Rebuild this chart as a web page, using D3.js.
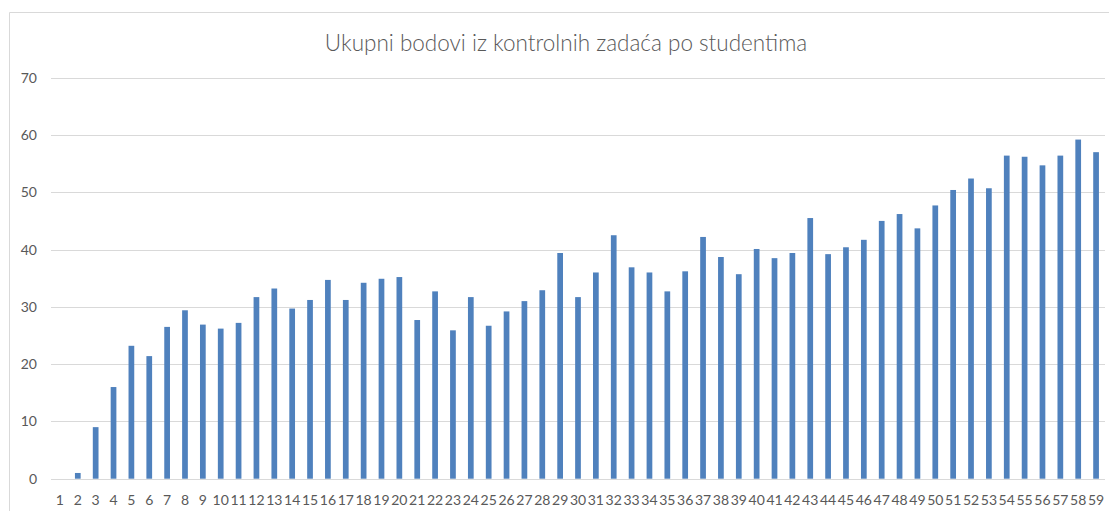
<!DOCTYPE html>
<html>
<head>
<meta charset="utf-8">
<script src="https://cdn.jsdelivr.net/npm/d3@7"></script>
<style>
  body { margin: 0; background: #fff; }
  svg { display: block; font-family: Lato, "Open Sans", sans-serif; }
</style>
</head>
<body>
<div id="chart"></div>
<script>
const width = 1109;
const height = 511;

const titleText = 'Ukupni bodovi iz kontrolnih zadaća po studentima';
const students = d3.range(1, 60);
const points = [
	0, 1, 9, 16, 23.2, 21.4, 26.5, 29.4, 26.9, 26.2,
	27.2, 31.7, 33.2, 29.7, 31.2, 34.7, 31.2, 34.2, 34.9, 35.2,
	27.7, 32.7, 25.9, 31.7, 26.7, 29.2, 31, 32.9, 39.4, 31.7,
	36, 42.5, 36.9, 36, 32.7, 36.2, 42.2, 38.7, 35.7, 40.1,
	38.5, 39.4, 45.5, 39.2, 40.4, 41.7, 45, 46.2, 43.7, 47.7,
	50.4, 52.4, 50.7, 56.4, 56.2, 54.7, 56.4, 59.2, 57
];
const yTicks = [0, 10, 20, 30, 40, 50, 60, 70];

const margin = { top: 77, right: 4, bottom: 33, left: 51 };

const svg = d3.select('#chart').append('svg')
	.attr('width', width)
	.attr('height', height);

// chart frame (top and left edges visible)
svg.append('path')
	.attr('d', `M9.5,${height} V12.5 H${width}`)
	.attr('fill', 'none')
	.attr('stroke', '#d9d9d9')
	.attr('stroke-width', 1);

svg.append('text')
	.attr('x', 566)
	.attr('y', 51)
	.attr('text-anchor', 'middle')
	.attr('font-size', 22.5)
	.attr('font-weight', 300)
	.attr('fill', '#595959')
	.text(titleText);

const x = d3.scaleBand()
	.domain(students)
	.range([margin.left, width - margin.right])
	.paddingInner(0.68)
	.paddingOuter(0.34);

const y = d3.scaleLinear()
	.domain([0, 70])
	.range([height - margin.bottom + 0.7, margin.top + 0.7]);

// gridlines
svg.append('g')
	.selectAll('line')
	.data(yTicks)
	.enter().append('line')
	.attr('x1', margin.left)
	.attr('x2', width - margin.right)
	.attr('y1', d => Math.round(y(d)) + 0.5)
	.attr('y2', d => Math.round(y(d)) + 0.5)
	.attr('stroke', '#d9d9d9')
	.attr('stroke-width', 1);

// y labels
svg.append('g')
	.selectAll('text')
	.data(yTicks)
	.enter().append('text')
	.attr('x', 37)
	.attr('y', d => y(d) + 5)
	.attr('text-anchor', 'end')
	.attr('font-size', 14)
	.attr('fill', '#595959')
	.text(d => d);

// bars
svg.append('g')
	.selectAll('rect')
	.data(points)
	.enter().append('rect')
	.attr('x', (d, i) => x(students[i]))
	.attr('width', x.bandwidth())
	.attr('y', d => y(d))
	.attr('height', d => y(0) - y(d))
	.attr('fill', '#4f81bd');

// x labels
const xAxis = d3.axisBottom(x).tickSize(0).tickPadding(0);
const gx = svg.append('g')
	.attr('transform', `translate(0,${y(0)})`)
	.call(xAxis);
gx.select('.domain').remove();
gx.selectAll('text')
	.attr('dy', 0)
	.attr('y', 26)
	.attr('font-size', 14)
	.attr('font-family', 'Lato, "Open Sans", sans-serif')
	.attr('fill', '#595959');
</script>
</body>
</html>
